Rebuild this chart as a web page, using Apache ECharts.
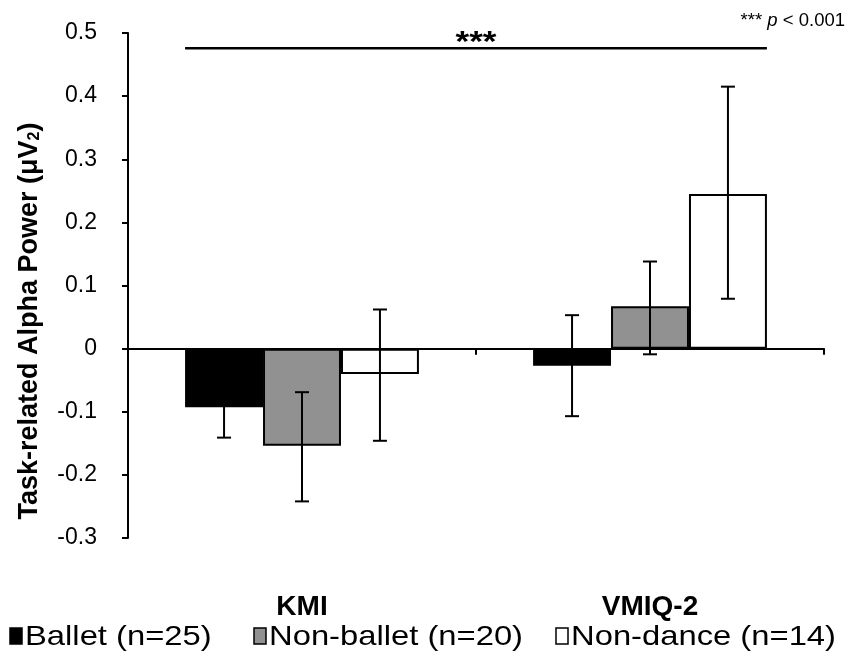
<!DOCTYPE html>
<html>
<head>
<meta charset="utf-8">
<script src="https://cdn.jsdelivr.net/npm/echarts@6/dist/echarts.min.js"></script>
<style>html,body{margin:0;padding:0;background:#fff;}#c{width:849px;height:656px;}</style>
</head>
<body>
<div id="c"></div>
<script>
const categories = ['KMI', 'VMIQ-2'];
const seriesNames = ['Ballet (n=25)', 'Non-ballet (n=20)', 'Non-dance (n=14)'];
const seriesColors = ['#000000', '#919191', '#ffffff'];
const means = [
  [-0.093, -0.027],
  [-0.154, 0.067],
  [-0.040, 0.245]
];
const errLow = [
  [-0.141, -0.107],
  [-0.242, -0.009],
  [-0.146, 0.079]
];
const errHigh = [
  [-0.045, 0.053],
  [-0.069, 0.138],
  [0.062, 0.415]
];
const yTicks = [-0.3, -0.2, -0.1, 0, 0.1, 0.2, 0.3, 0.4, 0.5];
const sigLevel = 0.476;

const FONT = '"Liberation Sans", Arial, sans-serif';
const nS = seriesNames.length;
const catGap = 0.328; // fraction of band left empty

const chart = echarts.init(document.getElementById('c'), null, {renderer: 'canvas'});

const barSeries = seriesNames.map((name, i) => ({
  name: name,
  type: 'bar',
  xAxisIndex: 0,
  data: means[i],
  barGap: '0%',
  barCategoryGap: (catGap * 100) + '%',
  itemStyle: {color: seriesColors[i], borderColor: '#000', borderWidth: 2},
  emphasis: {disabled: true},
  z: 2
}));

const errData = [];
for (let s = 0; s < nS; s++) {
  for (let c = 0; c < categories.length; c++) {
    errData.push([c, errLow[s][c], errHigh[s][c], s]);
  }
}

const errSeries = {
  type: 'custom',
  xAxisIndex: 0,
  data: errData,
  z: 5,
  silent: true,
  renderItem: function (params, api) {
    const c = api.value(0), lo = api.value(1), hi = api.value(2), s = api.value(3);
    const band = api.size([1, 0])[0];
    const bw = band * (1 - catGap) / nS;
    const center = api.coord([c, 0])[0];
    const x = center - bw * nS / 2 + bw * (s + 0.5);
    const yl = api.coord([c, lo])[1];
    const yh = api.coord([c, hi])[1];
    const cap = 7;
    const st = {stroke: '#000', lineWidth: 2};
    return {
      type: 'group',
      children: [
        {type: 'line', shape: {x1: x, y1: yl, x2: x, y2: yh}, style: st},
        {type: 'line', shape: {x1: x - cap, y1: yl, x2: x + cap, y2: yl}, style: st},
        {type: 'line', shape: {x1: x - cap, y1: yh, x2: x + cap, y2: yh}, style: st}
      ]
    };
  }
};

const sigSeries = {
  type: 'custom',
  xAxisIndex: 0,
  data: [[0, categories.length - 1, sigLevel]],
  z: 5,
  silent: true,
  renderItem: function (params, api) {
    const c0 = api.value(0), c1 = api.value(1), v = api.value(2);
    const band = api.size([1, 0])[0];
    const half = band * (1 - catGap) / 2;
    const x0 = api.coord([c0, v])[0] - half;
    const x1 = api.coord([c1, v])[0] + half;
    const y = api.coord([c0, v])[1];
    return {
      type: 'group',
      children: [
        {type: 'line', shape: {x1: x0, y1: y, x2: x1, y2: y}, style: {stroke: '#000', lineWidth: 2.5}},
        {type: 'text', x: (x0 + x1) / 2, y: y - 5, scaleX: 1.17,
          style: {text: '***', x: 0, y: 0, align: 'center', verticalAlign: 'middle',
          font: 'bold 30px ' + FONT, fill: '#000'}}
      ]
    };
  }
};

// legend drawn as graphic (stretched text like the reference)
const legendSquareX = [10, 254, 556];
const legendTextX = [25, 269, 571];
const legendGraphics = [];
seriesNames.forEach((n, i) => {
  legendGraphics.push({
    type: 'rect', shape: {x: legendSquareX[i], y: 628, width: 12, height: 16},
    style: {fill: seriesColors[i], stroke: '#000', lineWidth: 1.5}
  });
  legendGraphics.push({
    type: 'text', x: legendTextX[i], y: 637, scaleX: 1.17,
    style: {text: n, x: 0, y: 0, align: 'left', verticalAlign: 'middle', font: '28px ' + FONT, fill: '#000'}
  });
});

const option = {
  animation: false,
  backgroundColor: '#fff',
  textStyle: {fontFamily: FONT},
  grid: {left: 128, right: 25, top: 33, bottom: 118, containLabel: false},
  xAxis: [
    {
      type: 'category',
      data: categories,
      axisLine: {onZero: true, lineStyle: {color: '#000', width: 2}},
      axisTick: {show: true, inside: false, length: 6, alignWithLabel: false, lineStyle: {color: '#000', width: 2}},
      axisLabel: {show: false},
      splitLine: {show: false}
    },
    {
      type: 'category',
      data: categories,
      position: 'bottom',
      axisLine: {show: false, onZero: false},
      axisTick: {show: false},
      axisLabel: {show: true, margin: 55, fontSize: 28, fontWeight: 'bold', color: '#000', fontFamily: FONT},
      splitLine: {show: false}
    }
  ],
  yAxis: {
    type: 'value',
    min: yTicks[0],
    max: yTicks[yTicks.length - 1],
    interval: 0.1,
    axisLine: {show: true, lineStyle: {color: '#000', width: 2}},
    axisTick: {show: true, inside: false, length: 6, lineStyle: {color: '#000', width: 2}},
    axisLabel: {
      fontSize: 23, color: '#000', fontFamily: FONT, margin: 31,
      formatter: function (v) { const r = Math.round(v * 10) / 10; return r === 0 ? '0' : r.toFixed(1); }
    },
    splitLine: {show: false}
  },
  graphic: [
    {
      type: 'text',
      x: 30, y: 321,
      rotation: Math.PI / 2,
      style: {
        text: 'Task-related Alpha Power (μV{s|2})',
        rich: {s: {font: 'bold 16px ' + FONT, fill: '#000', padding: [9, 0, 0, 0]}},
        font: 'bold 27px ' + FONT,
        fill: '#000',
        align: 'center',
        verticalAlign: 'middle'
      }
    },
    {
      type: 'text',
      x: 845, y: 21,
      style: {
        text: '*** {i|p} < 0.001',
        rich: {i: {font: 'italic 18.5px ' + FONT, fill: '#000'}},
        font: '18.5px ' + FONT,
        fill: '#000',
        align: 'right',
        verticalAlign: 'middle'
      }
    }
  ].concat(legendGraphics),
  series: barSeries.concat([errSeries, sigSeries])
};
chart.setOption(option);
</script>
</body>
</html>
